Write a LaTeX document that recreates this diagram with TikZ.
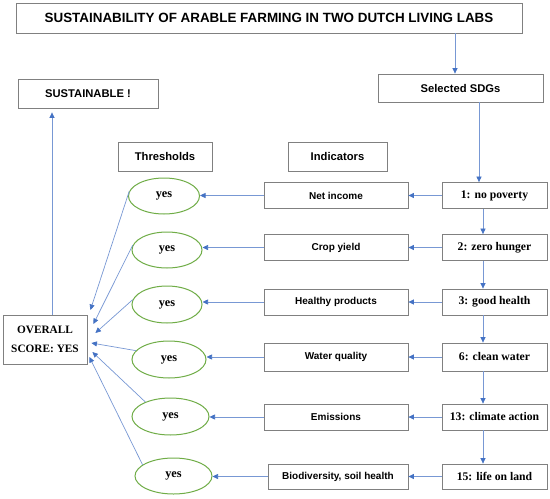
\documentclass[tikz,border=0pt]{standalone}
\usepackage{fontspec}
\setmainfont{Liberation Serif}
\newfontfamily\arial{Liberation Sans}
\usetikzlibrary{arrows.meta,shapes.geometric,calc}
\definecolor{lineblue}{RGB}{120,152,212}
\definecolor{headblue}{RGB}{68,114,196}
\definecolor{boxgray}{RGB}{128,128,128}
\definecolor{ellgreen}{RGB}{112,173,71}
\tikzset{
  box/.style={draw=boxgray, line width=0.8pt, inner sep=0pt, rectangle, align=center},
  hdr/.style={box, font=\arial\bfseries\fontsize{11.2}{13}\selectfont},
  indbox/.style={box, minimum width=144pt, minimum height=26pt, font=\arial\bfseries\fontsize{10}{12}\selectfont},
  sdgbox/.style={box, minimum width=105pt, minimum height=26pt, font=\bfseries\fontsize{11.7}{14}\selectfont},
  yesell/.style={ellipse, draw=ellgreen, line width=1pt, inner sep=0pt, font=\bfseries\fontsize{12.3}{14}\selectfont},
  arr/.style={draw=lineblue, line width=0.7pt, -{Triangle[length=5.5pt,width=5pt,color=headblue]}},
}
\begin{document}
\begin{tikzpicture}[x=1pt,y=-1pt]
\useasboundingbox (0,0) rectangle (550,499);
\fill[white] (0,0) rectangle (550,499);
% headers
\node[box, minimum width=506pt, minimum height=29.5pt, font=\arial\bfseries\fontsize{13.4}{15}\selectfont] (title) at (269,18.25) {SUSTAINABILITY OF ARABLE FARMING IN TWO DUTCH LIVING LABS};
\node[hdr, minimum width=165pt, minimum height=28pt] (sel) at (460.5,88) {Selected SDGs};
\node[hdr, minimum width=140pt, minimum height=29pt] (sus) at (88,93.5) {SUSTAINABLE !};
\node[hdr, minimum width=94pt, minimum height=29pt] (thr) at (165,156.5) {Thresholds};
\node[hdr, minimum width=99pt, minimum height=29pt] (ind) at (337.5,156.5) {Indicators};
\node[box, minimum width=84pt, minimum height=49pt, font=\bfseries\fontsize{11.3}{19}\selectfont] (ov) at (45,339.5) {OVERALL\\SCORE: YES};
% SDG boxes
\node[sdgbox] (s1) at (494.5,195.5) {1: no poverty};
\node[sdgbox] (s2) at (494.5,247.5) {2: zero hunger};
\node[sdgbox] (s3) at (494.5,302) {3: good health};
\node[sdgbox, minimum height=28pt] (s4) at (494.5,357) {6: clean water};
\node[sdgbox] (s5) at (494.5,417) {13: climate action};
\node[sdgbox, minimum height=25pt] (s6) at (494.5,476.5) {15: life on land};
% indicator boxes
\node[indbox] (i1) at (336,195.5) {Net income};
\node[indbox] (i2) at (336,247.5) {Crop yield};
\node[indbox] (i3) at (336,302) {Healthy products};
\node[indbox, minimum height=28pt] (i4) at (336,357) {Water quality};
\node[indbox] (i5) at (336,417) {Emissions};
\node[indbox, minimum width=140pt, minimum height=25pt] (i6) at (338,476.5) {Biodiversity, soil health};
% ellipses
\node[yesell, minimum width=71pt, minimum height=36pt] (e1) at (164,196) {yes};
\node[yesell, minimum width=70pt, minimum height=36pt] (e2) at (167,250) {yes};
\node[yesell, minimum width=70pt, minimum height=37pt] (e3) at (167,304.5) {yes};
\node[yesell, minimum width=74pt, minimum height=37pt] (e4) at (169,359.5) {yes};
\node[yesell, minimum width=77pt, minimum height=37pt] (e5) at (170.5,416.5) {yes};
\node[yesell, minimum width=77pt, minimum height=36pt] (e6) at (173.5,476) {yes};
% top arrows
\draw[arr] ([xshift=186pt]title.south) -- ([xshift=-5.5pt]sel.north);
\draw[arr] ([xshift=18.5pt]sel.south) -- ([xshift=-15.5pt]s1.north);
\draw[arr] ([xshift=7pt]ov.north) -- ([xshift=-36pt,yshift=-4pt]sus.south);
% SDG chain
\draw[arr] ([xshift=-11.5pt]s1.south) -- ([xshift=-11.5pt]s2.north);
\draw[arr] ([xshift=-11.5pt]s2.south) -- ([xshift=-11.5pt]s3.north);
\draw[arr] ([xshift=-11.5pt]s3.south) -- ([xshift=-11.5pt]s4.north);
\draw[arr] ([xshift=-11.5pt]s4.south) -- ([xshift=-11.5pt]s5.north);
\draw[arr] ([xshift=-11.5pt]s5.south) -- ([xshift=-11.5pt]s6.north);
% SDG -> indicator
\foreach \k in {1,...,6}{
  \draw[arr] (s\k.west) -- (s\k.west -| i\k.east);
  \draw[arr] (i\k.west) -- (i\k.west -| e\k.east);
}
% ellipses -> overall
\draw[arr] (e1.172) -- ($(ov.east)+(3,-29.5)$);
\draw[arr] (e2.172) -- ($(ov.east)+(6,-15.5)$);
\draw[arr] (e3.172) -- ($(ov.east)+(8,-6.5)$);
\draw[arr] (e4.165) -- ($(ov.east)+(4,3.5)$);
\draw[arr] (e5.150) -- ($(ov.east)+(5,12.5)$);
\draw[arr] (e6.160) -- ($(ov.east)+(2,17.5)$);
\end{tikzpicture}
\end{document}
